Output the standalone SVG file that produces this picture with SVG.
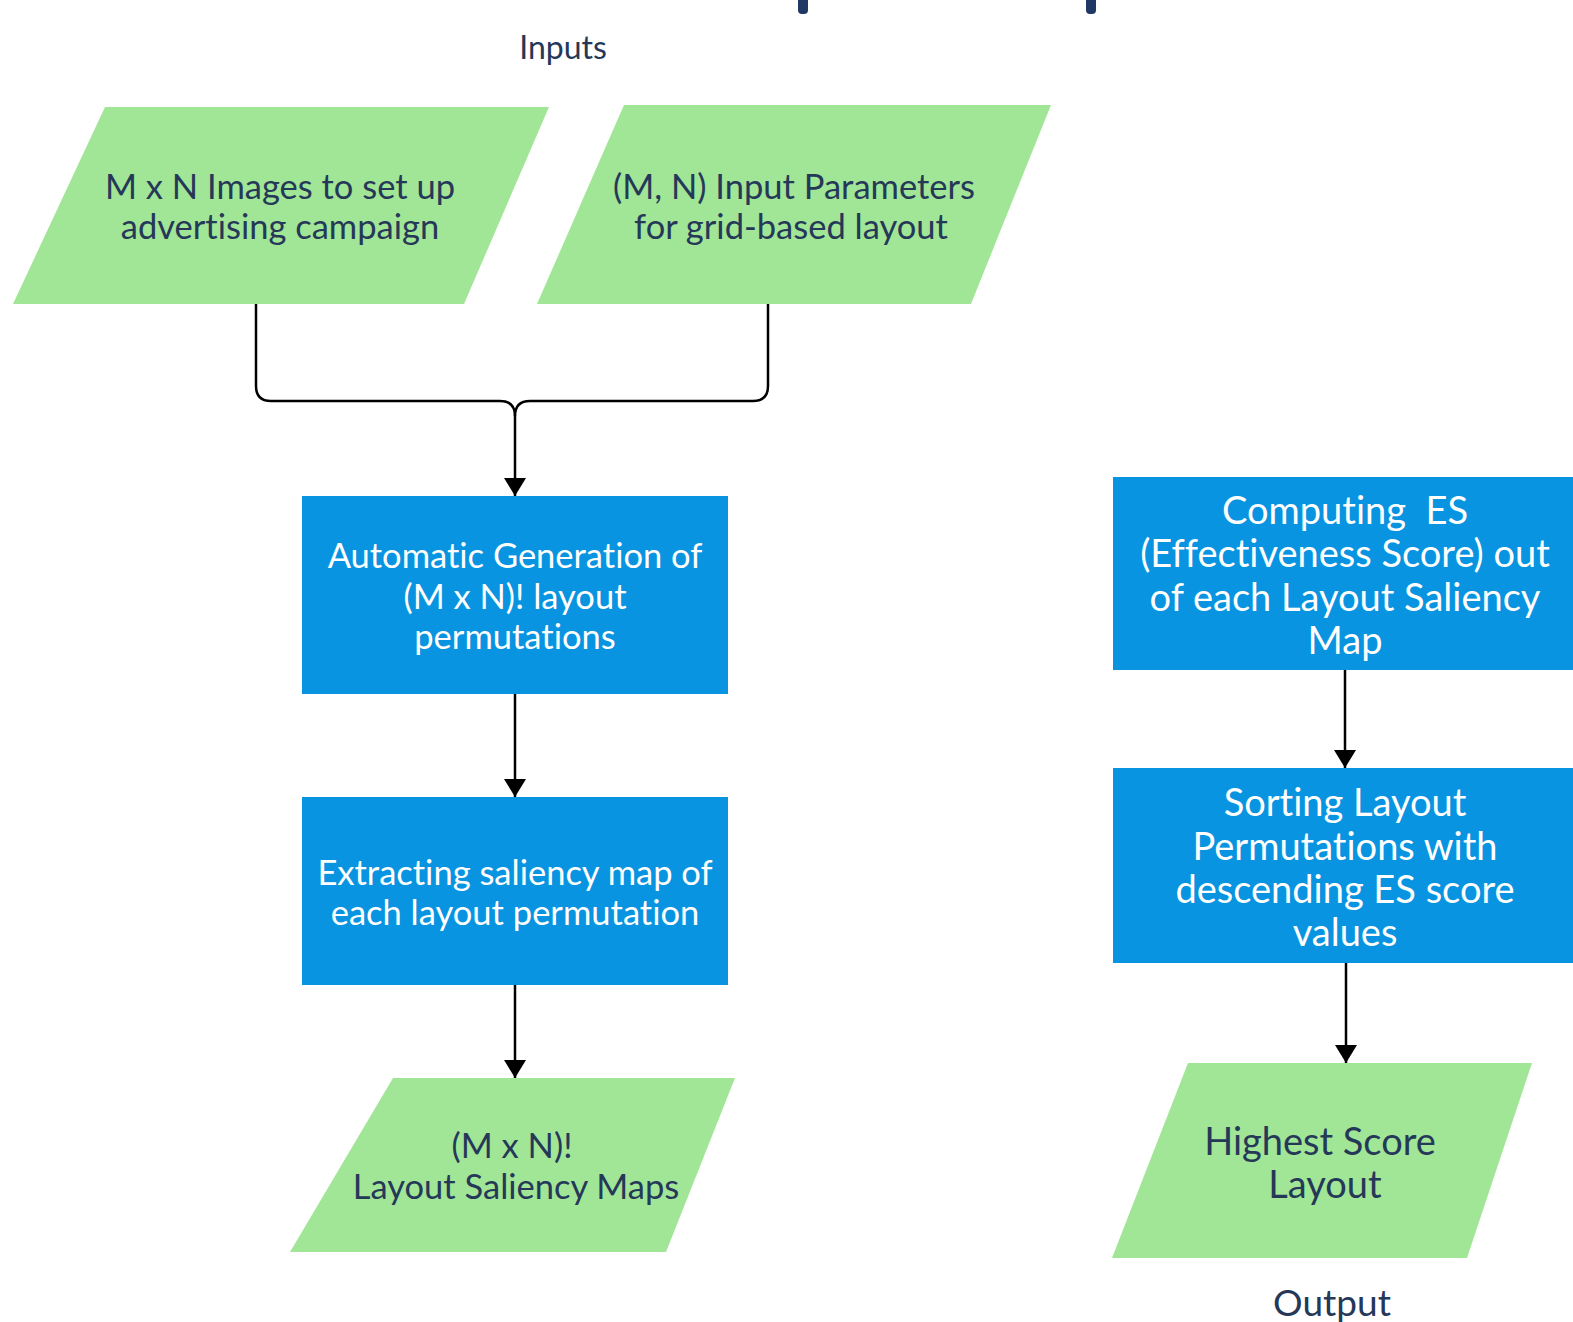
<svg xmlns="http://www.w3.org/2000/svg" width="1573" height="1322" viewBox="0 0 1573 1322">
<style>
.io{fill:#a1e596}
.proc{fill:#0894e0}
.dk,.wt{font-family:Lato,"Open Sans","Liberation Sans",sans-serif;font-size:34.5px;text-anchor:middle;font-variant-ligatures:none}
.dk{fill:#253858}
.wt{fill:#ffffff}
.big{font-size:38px}
.conn{fill:none;stroke:#000;stroke-width:2.5}
</style>
<defs>
<marker id="arr" markerUnits="userSpaceOnUse" markerWidth="18" markerHeight="22" viewBox="0 0 18 22" refX="18" refY="11" orient="auto">
<path d="M0,0 L18,11 L0,22 z" fill="#000"/>
</marker>
</defs>
<rect width="1573" height="1322" fill="#ffffff"/>
<g id="title-fragments" fill="#1f3864">
<rect x="798" y="-6" width="10" height="20" rx="4"/>
<rect x="1086" y="-6" width="10" height="20" rx="4"/>
</g>
<text id="label-inputs" class="dk" x="563" y="59" style="font-size:32px">Inputs</text>
<text id="label-output" class="dk" x="1332" y="1316" style="font-size:37px">Output</text>
<g id="connectors">
<path class="conn" d="M256,304 V386 Q256,401 271,401 H500 Q515,401 515,416 V496" marker-end="url(#arr)"/>
<path class="conn" d="M768,304 V386 Q768,401 753,401 H530 Q515,401 515,416"/>
<path class="conn" d="M515,694 V797" marker-end="url(#arr)"/>
<path class="conn" d="M515,985 V1078" marker-end="url(#arr)"/>
<path class="conn" d="M1345,670 V768" marker-end="url(#arr)"/>
<path class="conn" d="M1346,963 V1063" marker-end="url(#arr)"/>
</g>
<g id="node-images">
<polygon class="io" points="105,107 549,107 464,304 13,304"/>
<text class="dk" x="280" y="199">M x N Images to set up</text>
<text class="dk" x="280" y="239">advertising campaign</text>
</g>
<g id="node-params">
<polygon class="io" points="624,105 1051,105 971,304 537,304"/>
<text class="dk" x="794" y="199">(M, N) Input Parameters</text>
<text class="dk" x="791" y="239">for grid-based layout</text>
</g>
<g id="node-generation">
<rect class="proc" x="302" y="496" width="426" height="198"/>
<text class="wt" x="515" y="568">Automatic Generation of</text>
<text class="wt" x="515" y="609">(M x N)! layout</text>
<text class="wt" x="515" y="649">permutations</text>
</g>
<g id="node-extracting">
<rect class="proc" x="302" y="797" width="426" height="188"/>
<text class="wt" x="515" y="885">Extracting saliency map of</text>
<text class="wt" x="515" y="925">each layout permutation</text>
</g>
<g id="node-saliency-maps">
<polygon class="io" points="393,1078 735,1078 666,1252 290,1252"/>
<text class="dk" x="512" y="1158">(M x N)!</text>
<text class="dk" x="516" y="1199">Layout Saliency Maps</text>
</g>
<g id="node-computing">
<rect class="proc" x="1113" y="477" width="460" height="193"/>
<text class="wt big" x="1345" y="524" xml:space="preserve">Computing  ES</text>
<text class="wt big" x="1345" y="567">(Effectiveness Score) out</text>
<text class="wt big" x="1345" y="611">of each Layout Saliency</text>
<text class="wt big" x="1345" y="654">Map</text>
</g>
<g id="node-sorting">
<rect class="proc" x="1113" y="768" width="460" height="195"/>
<text class="wt big" x="1345" y="816">Sorting Layout</text>
<text class="wt big" x="1345" y="860">Permutations with</text>
<text class="wt big" x="1345" y="903">descending ES score</text>
<text class="wt big" x="1345" y="946">values</text>
</g>
<g id="node-highest">
<polygon class="io" points="1188,1063 1532,1063 1467,1258 1112,1258"/>
<text class="dk big" x="1320" y="1155">Highest Score</text>
<text class="dk big" x="1325" y="1198">Layout</text>
</g>
</svg>
